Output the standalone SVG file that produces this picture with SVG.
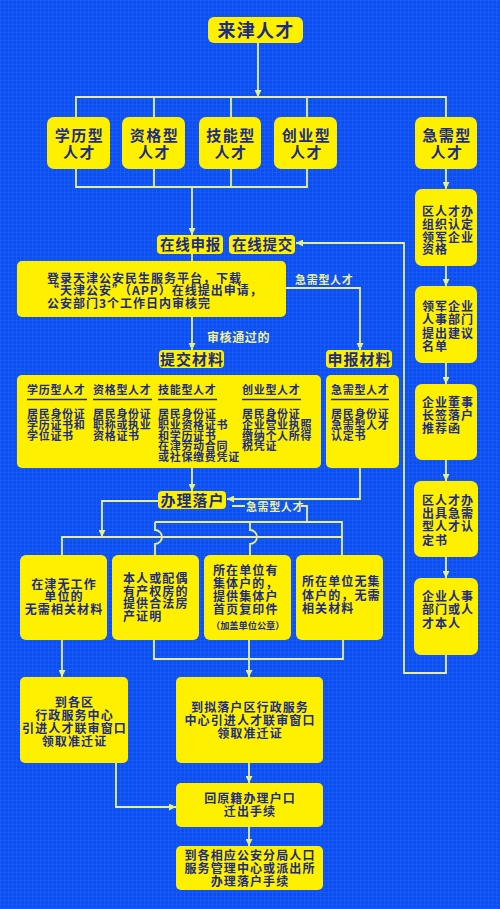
<svg xmlns="http://www.w3.org/2000/svg" width="500" height="909" viewBox="0 0 500 909">
<defs>
<pattern id="grid" width="4" height="4" patternUnits="userSpaceOnUse">
<rect width="4" height="4" fill="#0b4ef2"/>
<path d="M0,0.5 H4 M0.5,0 V4" stroke="#2b67f7" stroke-width="1" opacity="0.45"/>
</pattern>
<marker id="ah" viewBox="0 0 10 10" refX="10" refY="5" markerWidth="7" markerHeight="7" markerUnits="userSpaceOnUse" orient="auto">
<path d="M0,0 L10,5 L0,10 z" fill="#e3f08c"/>
</marker>
<style>
.b{fill:#fff000}
.t{font-family:"Noto Sans CJK SC","Noto Sans",sans-serif;font-weight:700;fill:#1c2c80}
.c{text-anchor:middle}
.lbl{font-family:"Noto Sans CJK SC","Noto Sans",sans-serif;font-weight:700;fill:#eef29a}
.ul{stroke:#1c2c80;stroke-width:1.5}
.r{font-size:12px;letter-spacing:1px}
.m{font-size:11px;letter-spacing:0.7px}
.s{font-size:12px;letter-spacing:1.1px}
.h{font-size:15px;letter-spacing:1.5px}
</style>
</defs>
<rect width="500" height="909" fill="url(#grid)"/>

<g id="connectors" fill="none" stroke="#e3f08c" stroke-width="1.8">
<path d="M258,43 V97" marker-end="url(#ah)"/>
<path d="M76,117 V97 H446 V117 M154,97 V117 M231,97 V117 M307,97 V117"/>
<path d="M76,169 V187 H307 V169 M154,169 V187 M231,169 V187"/>
<path d="M192,187 V235" marker-end="url(#ah)"/>
<path d="M192,254 V261"/>
<path d="M446,169 V189" marker-end="url(#ah)"/>
<path d="M446,266 V286" marker-end="url(#ah)"/>
<path d="M446,363 V384" marker-end="url(#ah)"/>
<path d="M446,460 V481" marker-end="url(#ah)"/>
<path d="M446,557 V578" marker-end="url(#ah)"/>
<path d="M446,655 V673 H404 V243 H296" marker-end="url(#ah)"/>
<path d="M192,317 V350" marker-end="url(#ah)"/>
<path d="M286,288 H360 V350" marker-end="url(#ah)"/>
<path d="M192,468 V491" marker-end="url(#ah)"/>
<path d="M360,468 V499 H227" marker-end="url(#ah)"/>
<path d="M232,506 H245 M301,506 H307 V522"/>
<path d="M158,501 H102 V537" marker-end="url(#ah)"/>
<path d="M62,555 V537 H342"/>
<path d="M155,522 H342 V555"/>
<path d="M155,522 V530 A7,7 0 0 1 155,544 V555"/>
<path d="M250,522 V530 A7,7 0 0 1 250,544 V555"/>
<path d="M62,640 V677" marker-end="url(#ah)"/>
<path d="M154,640 V659 H343 V640"/>
<path d="M249,640 V677" marker-end="url(#ah)"/>
<path d="M249,763 V783" marker-end="url(#ah)"/>
<path d="M116,763 V807 H176" marker-end="url(#ah)"/>
<path d="M249,827 V846" marker-end="url(#ah)"/>
</g>

<g id="labels">
<text class="lbl" x="295" y="283.5" font-size="11" letter-spacing="0.7">急需型人才</text>
<text class="lbl" x="207" y="342" font-size="12" letter-spacing="0.6">审核通过的</text>
<text class="lbl" x="246" y="510.5" font-size="11" letter-spacing="0.6">急需型人才</text>
</g>

<g id="n_top"><rect class="b" x="208" y="17" width="95" height="26" rx="6"/>
<text class="t c" x="256" y="37" font-size="18" letter-spacing="1.2">来津人才</text></g>

<g id="n_xueli"><rect class="b" x="47" y="117" width="63" height="52" rx="7"/>
<text class="t c h"><tspan x="79.5" y="140.5">学历型</tspan><tspan x="79.5" y="157.5">人才</tspan></text></g>
<g id="n_zige"><rect class="b" x="122" y="117" width="63" height="52" rx="7"/>
<text class="t c h"><tspan x="154.5" y="140.5">资格型</tspan><tspan x="154.5" y="157.5">人才</tspan></text></g>
<g id="n_jineng"><rect class="b" x="199" y="117" width="62" height="52" rx="7"/>
<text class="t c h"><tspan x="231" y="140.5">技能型</tspan><tspan x="231" y="157.5">人才</tspan></text></g>
<g id="n_chuangye"><rect class="b" x="274" y="117" width="63" height="52" rx="7"/>
<text class="t c h"><tspan x="306.5" y="140.5">创业型</tspan><tspan x="306.5" y="157.5">人才</tspan></text></g>
<g id="n_jixu"><rect class="b" x="415" y="117" width="62" height="52" rx="7"/>
<text class="t c h"><tspan x="447" y="140.5">急需型</tspan><tspan x="447" y="157.5">人才</tspan></text></g>

<g id="n_r1"><rect class="b" x="415" y="189" width="62" height="77" rx="7"/>
<text class="t r"><tspan x="422" y="216">区人才办</tspan><tspan x="422" y="228.8">组织认定</tspan><tspan x="422" y="241.6">领军企业</tspan><tspan x="422" y="254.4">资格</tspan></text></g>
<g id="n_r2"><rect class="b" x="415" y="286" width="62" height="77" rx="7"/>
<text class="t r"><tspan x="422" y="310.5">领军企业</tspan><tspan x="422" y="324">人事部门</tspan><tspan x="422" y="337.5">提出建议</tspan><tspan x="422" y="351">名单</tspan></text></g>
<g id="n_r3"><rect class="b" x="415" y="384" width="62" height="76" rx="7"/>
<text class="t r"><tspan x="422" y="407">企业董事</tspan><tspan x="422" y="420">长签落户</tspan><tspan x="422" y="433">推荐函</tspan></text></g>
<g id="n_r4"><rect class="b" x="414" y="481" width="64" height="76" rx="7"/>
<text class="t r"><tspan x="422" y="505">区人才办</tspan><tspan x="422" y="518.2">出具急需</tspan><tspan x="422" y="531.4">型人才认</tspan><tspan x="422" y="544.6">定书</tspan></text></g>
<g id="n_r5"><rect class="b" x="414" y="578" width="64" height="77" rx="7"/>
<text class="t r"><tspan x="422" y="600.5">企业人事</tspan><tspan x="422" y="614">部门或人</tspan><tspan x="422" y="627.5">才本人</tspan></text></g>

<g id="n_zxsb"><rect class="b" x="157" y="235" width="66" height="19" rx="4"/>
<text class="t c" x="190.5" y="250" font-size="14.5" letter-spacing="0.8">在线申报</text></g>
<g id="n_zxtj"><rect class="b" x="229" y="235" width="66" height="19" rx="4"/>
<text class="t c" x="262.5" y="250" font-size="14.5" letter-spacing="0.8">在线提交</text></g>

<g id="n_login"><rect class="b" x="17" y="261" width="269" height="56" rx="5"/>
<text class="t" font-size="12" letter-spacing="1"><tspan x="47" y="282.5">登录天津公安民生服务平台，下载</tspan><tspan x="47" y="295">“天津公安”（APP）在线提出申请，</tspan><tspan x="47" y="307.5">公安部门3个工作日内审核完</tspan></text></g>

<g id="n_tjcl"><rect class="b" x="159" y="350" width="65" height="18" rx="4"/>
<text class="t c" x="192" y="364.5" font-size="15" letter-spacing="1">提交材料</text></g>
<g id="n_sbcl"><rect class="b" x="326" y="350" width="66" height="18" rx="4"/>
<text class="t c" x="359.5" y="364.5" font-size="15" letter-spacing="1">申报材料</text></g>

<g id="n_materials"><rect class="b" x="17" y="375" width="304" height="93" rx="5"/>
<g class="t m">
<text x="27" y="394">学历型人才</text>
<text x="93" y="394">资格型人才</text>
<text x="158" y="394">技能型人才</text>
<text x="242" y="394">创业型人才</text>
<text><tspan x="27" y="418">居民身份证</tspan><tspan x="27" y="428.8">学历证书和</tspan><tspan x="27" y="439.6">学位证书</tspan></text>
<text><tspan x="93" y="418">居民身份证</tspan><tspan x="93" y="428.8">职称或执业</tspan><tspan x="93" y="439.6">资格证书</tspan></text>
<text><tspan x="158" y="418">居民身份证</tspan><tspan x="158" y="428.8">职业资格证书</tspan><tspan x="158" y="439.6">和学历证书</tspan><tspan x="158" y="450.4">在津劳动合同</tspan><tspan x="158" y="461.2">或社保缴费凭证</tspan></text>
<text><tspan x="242" y="418">居民身份证</tspan><tspan x="242" y="428.8">企业营业执照</tspan><tspan x="242" y="439.6">缴纳个人所得</tspan><tspan x="242" y="450.4">税凭证</tspan></text>
</g>
<path class="ul" d="M27,399.5 H87 M93,399.5 H152 M158,399.5 H217 M242,399.5 H301"/>
</g>
<g id="n_sb_materials"><rect class="b" x="326" y="375" width="73" height="93" rx="5"/>
<g class="t m">
<text x="331" y="394">急需型人才</text>
<text><tspan x="331" y="418">居民身份证</tspan><tspan x="331" y="428.8">急需型人才</tspan><tspan x="331" y="439.6">认定书</tspan></text>
</g>
<path class="ul" d="M331,399.5 H389"/>
</g>

<g id="n_blh"><rect class="b" x="158" y="491" width="68" height="18" rx="4"/>
<text class="t c" x="192.5" y="505.5" font-size="15" letter-spacing="1">办理落户</text></g>

<g id="n_c1"><rect class="b" x="20" y="555" width="87" height="85" rx="6"/>
<text class="t c s"><tspan x="64" y="588.5">在津无工作</tspan><tspan x="64" y="601.3">单位的</tspan><tspan x="64" y="614">无需相关材料</tspan></text></g>
<g id="n_c2"><rect class="b" x="112" y="555" width="87" height="85" rx="6"/>
<text class="t s"><tspan x="123" y="582.8">本人或配偶</tspan><tspan x="123" y="595.6">有产权房的</tspan><tspan x="123" y="608.4">提供合法房</tspan><tspan x="123" y="621.2">产证明</tspan></text></g>
<g id="n_c3"><rect class="b" x="204" y="555" width="87" height="85" rx="6"/>
<text class="t s"><tspan x="213" y="575.2">所在单位有</tspan><tspan x="213" y="588.2">集体户的，</tspan><tspan x="213" y="601.2">提供集体户</tspan><tspan x="213" y="614.2">首页复印件</tspan></text>
<text class="t" x="211" y="628.5" font-size="9.2">（加盖单位公章）</text></g>
<g id="n_c4"><rect class="b" x="296" y="555" width="87" height="85" rx="6"/>
<text class="t s"><tspan x="302" y="586.2">所在单位无集</tspan><tspan x="302" y="599.5">体户的，无需</tspan><tspan x="302" y="612.8">相关材料</tspan></text></g>

<g id="n_d1"><rect class="b" x="20" y="677" width="108" height="86" rx="5"/>
<text class="t c s"><tspan x="74.5" y="707.2">到各区</tspan><tspan x="74.5" y="720">行政服务中心</tspan><tspan x="74.5" y="733">引进人才联审窗口</tspan><tspan x="74.5" y="746.2">领取准迁证</tspan></text></g>
<g id="n_d2"><rect class="b" x="176" y="677" width="147" height="86" rx="5"/>
<text class="t c s"><tspan x="250" y="711.8">到拟落户区行政服务</tspan><tspan x="250" y="725">中心引进人才联审窗口</tspan><tspan x="250" y="738">领取准迁证</tspan></text></g>
<g id="n_e"><rect class="b" x="176" y="783" width="147" height="44" rx="5"/>
<text class="t c s"><tspan x="250" y="802.8">回原籍办理户口</tspan><tspan x="250" y="816.2">迁出手续</tspan></text></g>
<g id="n_f"><rect class="b" x="176" y="846" width="147" height="44" rx="5"/>
<text class="t c s"><tspan x="250" y="859.5">到各相应公安分局人口</tspan><tspan x="250" y="872.8">服务管理中心或派出所</tspan><tspan x="250" y="886.2">办理落户手续</tspan></text></g>
</svg>
